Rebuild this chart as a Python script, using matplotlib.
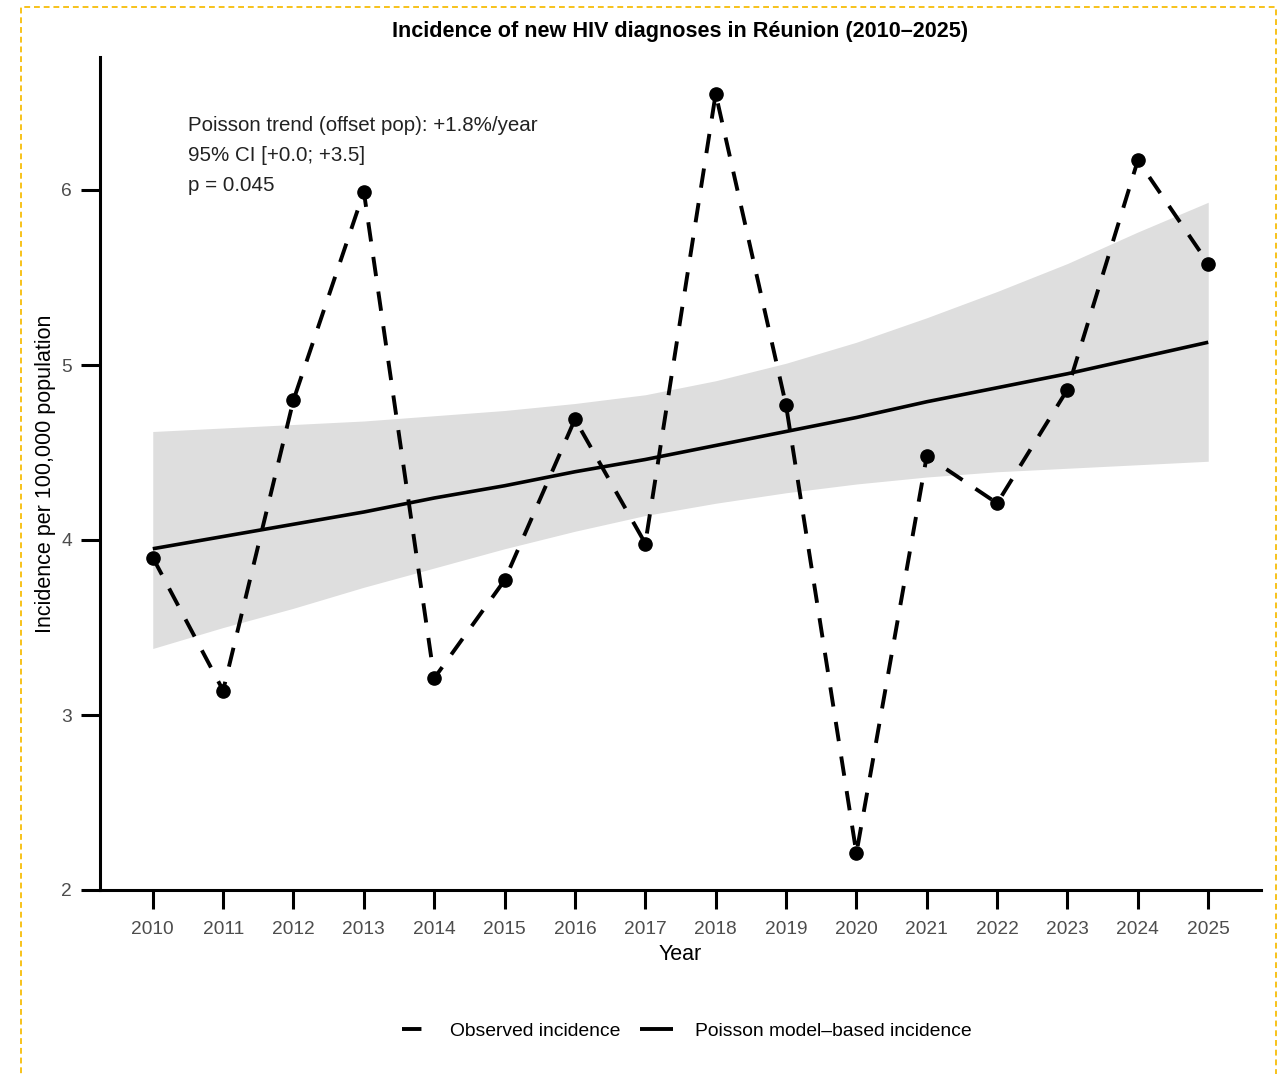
import matplotlib
matplotlib.use("Agg")
import matplotlib.pyplot as plt
from matplotlib.lines import Line2D
from matplotlib.patches import Rectangle

plt.rcParams['font.family'] = ['Liberation Sans', 'DejaVu Sans']

years = [2010, 2011, 2012, 2013, 2014, 2015, 2016, 2017,
         2018, 2019, 2020, 2021, 2022, 2023, 2024, 2025]
observed = [3.90, 3.14, 4.80, 5.99, 3.21, 3.77, 4.69, 3.98,
            6.55, 4.77, 2.21, 4.48, 4.21, 4.86, 6.17, 5.58]
model_fit = [3.95, 4.02, 4.09, 4.16, 4.24, 4.31, 4.39, 4.46,
             4.54, 4.62, 4.70, 4.79, 4.87, 4.95, 5.04, 5.13]
ci_lower = [3.38, 3.50, 3.61, 3.73, 3.84, 3.95, 4.05, 4.14,
            4.21, 4.27, 4.32, 4.36, 4.39, 4.41, 4.43, 4.45]
ci_upper = [4.62, 4.64, 4.66, 4.68, 4.71, 4.74, 4.78, 4.83,
            4.91, 5.01, 5.13, 5.27, 5.42, 5.58, 5.76, 5.93]
y_ticks = [2, 3, 4, 5, 6]

title = "Incidence of new HIV diagnoses in Réunion (2010–2025)"
annot_lines = ["Poisson trend (offset pop): +1.8%/year",
               "95% CI [+0.0; +3.5]",
               "p = 0.045"]

W, H = 1281, 1074
fig = plt.figure(figsize=(W / 100, H / 100), dpi=100)
fig.patch.set_facecolor('white')

# screenshot-style dashed border
fig.patches.append(Rectangle((21 / W, -0.05), (1276 - 21) / W, 1.05 - 7 / H,
                             transform=fig.transFigure, fill=False,
                             edgecolor='#F7C21A', lw=1.4, linestyle=(0, (3, 2)),
                             zorder=0))

ax = fig.add_axes([100 / W, 1 - 890 / H, (1261 - 100) / W, (890 - 57) / H])

ax.fill_between(years, ci_lower, ci_upper, color='#DEDEDE', lw=0, zorder=1)
ax.plot(years, model_fit, color='black', lw=2.6, solid_capstyle='butt', zorder=3)
ax.plot(years, observed, color='black', lw=2.8, linestyle=(0, (5, 4)),
        dash_capstyle='butt', zorder=4)
ax.plot(years, observed, 'o', color='black', ms=9.5, zorder=5)

ax.set_xlim(2009.25, 2025.75)
ax.set_ylim(2, 6.76)
ax.set_xticks(years)
ax.set_xticklabels([str(y) for y in years])
ax.set_yticks(y_ticks)

for s in ['top', 'right']:
    ax.spines[s].set_visible(False)
for s in ['left', 'bottom']:
    ax.spines[s].set_linewidth(2.2)
ax.tick_params(axis='both', length=14, width=2.2, labelsize=13.8,
               labelcolor='#4D4D4D')
ax.tick_params(axis='x', pad=8)
ax.tick_params(axis='y', pad=6)

ax.set_xlabel("Year", fontsize=15.5, labelpad=5)
ax.set_ylabel("Incidence per 100,000 population", fontsize=15.5, labelpad=4)

for i, line in enumerate(annot_lines):
    ax.text(2010.5, 6.366 - i * 0.1714, line, fontsize=14.8, va='center',
            ha='left', color='#222222')

fig.text(680 / W, 1 - 31 / H, title, fontsize=15.6, fontweight='bold',
         ha='center', va='center')

h_obs = Line2D([], [], color='black', lw=2.8, linestyle=(7.2, (5, 4)),
               dash_capstyle='butt')
h_fit = Line2D([], [], color='black', lw=2.8, solid_capstyle='butt')
fig.legend([h_obs, h_fit], ["Observed incidence", "Poisson model–based incidence"],
           loc='center', bbox_to_anchor=(683 / W, 1 - 1031 / H), ncol=2,
           frameon=False, fontsize=13.9, handlelength=1.75, handletextpad=1.1,
           columnspacing=1.0)

fig.savefig("out.png", dpi=100)
